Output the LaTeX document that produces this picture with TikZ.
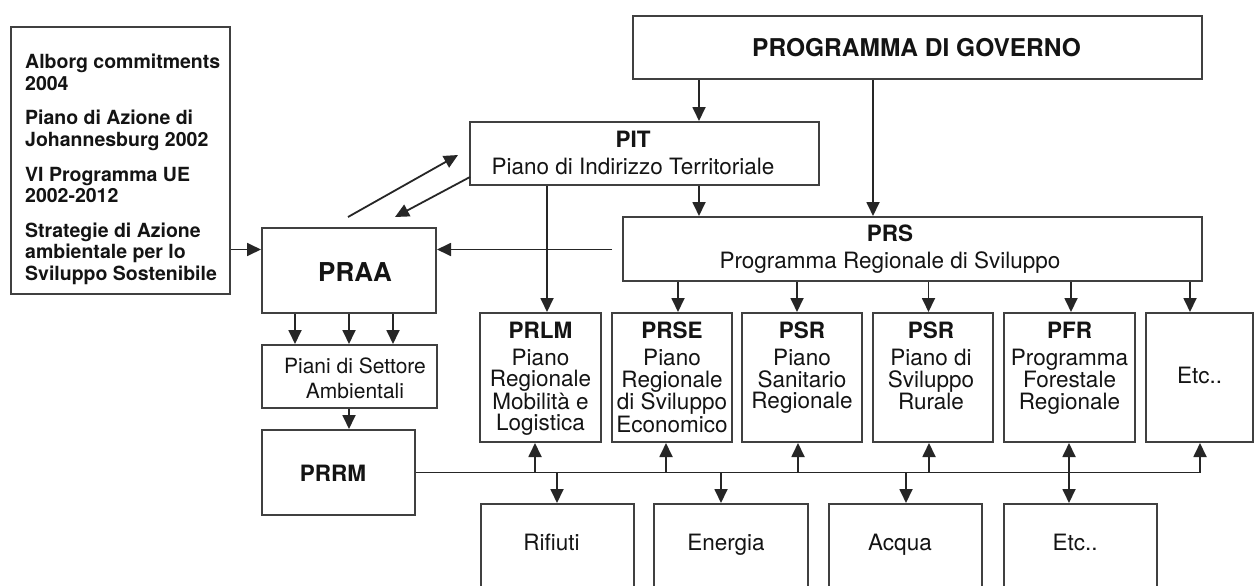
\documentclass[tikz,border=0pt]{standalone}
\usepackage{fontspec}
\setmainfont{TeX Gyre Heros}
\usetikzlibrary{arrows.meta,calc}
\tikzset{
  bx/.style={draw=black!75, line width=2pt, inner sep=0pt, fill=white},
  tx/.style={inner sep=0pt, align=center, text=black!92, font=\fontsize{22.5}{21.3}\selectfont},
  txb/.style={tx, font=\fontsize{22.5}{21.3}\selectfont\bfseries},
  ln/.style={line width=1.8pt, draw=black!85},
  ar/.style={ln, -{Triangle[length=14pt,width=13pt]}},
  dar/.style={ln, {Triangle[length=14pt,width=13pt]}-{Triangle[length=14pt,width=13pt]}},
}
\begin{document}
\begin{tikzpicture}[x=1pt,y=-1pt]
\useasboundingbox (0,0) rectangle (1255,586);
\clip (0,0) rectangle (1255,586);
\fill[white] (0,0) rectangle (1255,586);

% ---------- boxes ----------
\node[bx, minimum width=219pt, minimum height=267pt, anchor=north west] (ext) at (10,26) {};
\node[anchor=north west, inner sep=0pt, align=left, text=black!92,
      font=\fontsize{19.5}{21.6}\selectfont\bfseries] (extt) at (25,54)
  {Alborg commitments\\2004\\[13pt]Piano di Azione di\\Johannesburg 2002\\[13pt]VI Programma UE\\2002-2012\\[13pt]Strategie di Azione\\ambientale per lo\\Sviluppo Sostenibile};

\node[bx, minimum width=569pt, minimum height=63pt] (gov) at (917.5,47.5) {};
\node[tx, font=\fontsize{24.5}{26}\selectfont\bfseries] (govt) at (916.5,47.5) {PROGRAMMA DI GOVERNO};

\node[bx, minimum width=349pt, minimum height=63pt] (pit) at (644.5,153.5) {};
\node[tx] (pitt) at (633,152.5) {\textbf{PIT}\\[5.7pt]Piano di Indirizzo Territoriale};

\node[bx, minimum width=579pt, minimum height=64pt] (prs) at (912.5,249) {};
\node[tx] (prst) at (890,249.4) {\textbf{PRS}\\[5.5pt]Programma Regionale di Sviluppo};

\node[bx, minimum width=174pt, minimum height=85pt] (praa) at (349,270.5) {};
\node[tx, font=\fontsize{26}{28}\selectfont\bfseries] (praat) at (355,272) {PRAA};

\node[bx, minimum width=175pt, minimum height=63pt] (piani) at (349.5,376.5) {};
\node[tx, font=\fontsize{21}{25}\selectfont] (pianit) at (355,378) {Piani di Settore\\Ambientali};

\node[bx, minimum width=153pt, minimum height=85pt] (prrm) at (338.5,472.5) {};
\node[txb] (prrmt) at (333,473) {PRRM};

% row of plans
\node[bx, minimum width=121pt, minimum height=129pt] (prlm) at (540.5,377.5) {};
\node[bx, minimum width=120pt, minimum height=129pt] (prse) at (672,377.5) {};
\node[bx, minimum width=120pt, minimum height=129pt] (psra) at (802,377.5) {};
\node[bx, minimum width=120.5pt, minimum height=129pt] (psrb) at (932.75,377.5) {};
\node[bx, minimum width=131pt, minimum height=129pt] (pfr) at (1069.5,377.5) {};
\node[bx, minimum width=107pt, minimum height=129pt] (etc) at (1199.5,377.5) {};

\node[tx, anchor=north] (prlmt) at (540.5,322) {\textbf{PRLM}\\[5.7pt]Piano\\Regionale\\Mobilità e\\Logistica};
\node[tx, anchor=north] (prset) at (672,322) {\textbf{PRSE}\\[5.7pt]Piano\\Regionale\\di Sviluppo\\Economico};
\node[tx, anchor=north] (psrat) at (802,322) {\textbf{PSR}\\[5.7pt]Piano\\Sanitario\\Regionale};
\node[tx, anchor=north] (psrbt) at (931,322) {\textbf{PSR}\\[5.7pt]Piano di\\Sviluppo\\Rurale};
\node[tx, anchor=north] (pfrt) at (1069.5,322) {\textbf{PFR}\\[5.7pt]Programma\\Forestale\\Regionale};
\node[tx] (etct) at (1199.5,375) {Etc..};

% bottom sector boxes (cut by the lower edge)
\node[bx, minimum width=153pt, minimum height=116pt] (rif) at (557.5,562) {};
\node[bx, minimum width=154pt, minimum height=116pt] (ene) at (731,562) {};
\node[bx, minimum width=153pt, minimum height=116pt] (acq) at (905.5,562) {};
\node[bx, minimum width=153pt, minimum height=116pt] (etcb) at (1080.5,562) {};
\node[tx, anchor=base] (rift) at (551.5,550) {Rifiuti};
\node[tx, anchor=base] (enet) at (726,550) {Energia};
\node[tx, anchor=base] (acqt) at (900,550) {Acqua};
\node[tx, anchor=base] (etcbt) at (1075,550) {Etc..};

% ---------- helper x / y coordinates ----------
\coordinate (x295) at (295,0);
\coordinate (x349) at (349,0);
\coordinate (x393) at (393,0);
\coordinate (x547) at (547,0);
\coordinate (x699) at (699,0);
\coordinate (x873) at (873,0);
\coordinate (x678) at (678,0);
\coordinate (x797) at (797,0);
\coordinate (x928) at (928.5,0);
\coordinate (x1071) at (1071,0);
\coordinate (x1190) at (1190,0);
\coordinate (x535) at (535,0);
\coordinate (x666) at (666,0);
\coordinate (x798) at (798,0);
\coordinate (x929) at (929,0);
\coordinate (x1069) at (1069,0);
\coordinate (x1200) at (1200,0);
\coordinate (x557) at (557,0);
\coordinate (x721) at (721,0);
\coordinate (x906) at (906,0);
\coordinate (y249) at (0,249.5);
\coordinate (d1s) at (348,217);
\coordinate (d1e) at (458,155);
\coordinate (d2s) at (470,177);
\coordinate (d2e) at (395,217);

% ---------- connectors ----------
\draw[ar] (x699 |- gov.south) -- (x699 |- pit.north);
\draw[ar] (x873 |- gov.south) -- (x873 |- prs.north);
\draw[ar] (x699 |- pit.south) -- (x699 |- prs.north);
\draw[ar] (x547 |- pit.south) -- (x547 |- prlm.north);

\draw[ar] (d1s) -- (d1e);
\draw[ar] (d2s) -- (d2e);

\draw[ar] (ext.east |- y249) -- (praa.west |- y249);
\draw[ar, shorten <=10pt] (prs.west |- y249) -- (praa.east |- y249);

\draw[ar] (x295 |- praa.south) -- (x295 |- piani.north);
\draw[ar] (x349 |- praa.south) -- (x349 |- piani.north);
\draw[ar] (x393 |- praa.south) -- (x393 |- piani.north);
\draw[ar] (x349 |- piani.south) -- (x349 |- prrm.north);

\draw[ar] (x678 |- prs.south) -- (x678 |- prse.north);
\draw[ar] (x797 |- prs.south) -- (x797 |- psra.north);
\draw[ar] (x928 |- prs.south) -- (x928 |- psrb.north);
\draw[ar] (x1071 |- prs.south) -- (x1071 |- pfr.north);
\draw[ar] (x1190 |- prs.south) -- (x1190 |- etc.north);

% bus
\draw[ln] (prrm.east) -- (x1200 |- prrm.east);
\draw[ar] (x535 |- prrm.east) -- (x535 |- prlm.south);
\draw[ar] (x666 |- prrm.east) -- (x666 |- prse.south);
\draw[ar] (x798 |- prrm.east) -- (x798 |- psra.south);
\draw[ar] (x929 |- prrm.east) -- (x929 |- psrb.south);
\draw[ar] (x1200 |- prrm.east) -- (x1200 |- etc.south);
\draw[dar] (x1069 |- pfr.south) -- (x1069 |- etcb.north);
\draw[ar] (x557 |- prrm.east) -- (x557 |- rif.north);
\draw[ar] (x721 |- prrm.east) -- (x721 |- ene.north);
\draw[ar] (x906 |- prrm.east) -- (x906 |- acq.north);
\end{tikzpicture}
\end{document}
